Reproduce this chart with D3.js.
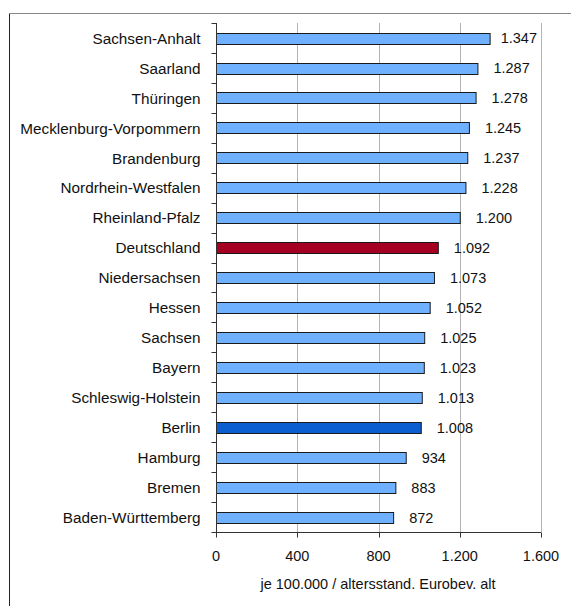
<!DOCTYPE html>
<html>
<head>
<meta charset="utf-8">
<script src="https://cdn.jsdelivr.net/npm/d3@7"></script>
<style>
  body { margin: 0; background: #fff; }
  svg { display: block; }
  text { font-family: "Liberation Sans", Arial, sans-serif; fill: #111; }
</style>
</head>
<body>
<script>
var outerWidth = 571;
var outerHeight = 606;
var margin = {left: 216, top: 23, right: 30, bottom: 74};

// Laender, sorted as in the reference
var states = ["Sachsen-Anhalt", "Saarland", "Thüringen", "Mecklenburg-Vorpommern",
  "Brandenburg", "Nordrhein-Westfalen", "Rheinland-Pfalz", "Deutschland",
  "Niedersachsen", "Hessen", "Sachsen", "Bayern", "Schleswig-Holstein",
  "Berlin", "Hamburg", "Bremen", "Baden-Württemberg"];
var rates = [1347, 1287, 1278, 1245, 1237, 1228, 1200, 1092,
  1073, 1052, 1025, 1023, 1013, 1008, 934, 883, 872];
var xTicks = [0, 400, 800, 1200, 1600];
var axisTitle = "je 100.000 / altersstand. Eurobev. alt";

var fmt = d3.formatLocale({decimal: ",", thousands: ".", grouping: [3], currency: ["", "€"]}).format(",.0f");

function barColor(name) {
  if (name === "Deutschland") return "#a50021";
  if (name === "Berlin") return "#0b5ed0";
  return "#6fb0ff";
}

var svg = d3.select("body").append("svg")
    .attr("width", outerWidth)
    .attr("height", outerHeight);

// chart frame (only left and top edges are inside the picture)
svg.append("line")
    .attr("x1", 9.5).attr("x2", 9.5).attr("y1", 13).attr("y2", outerHeight)
    .attr("stroke", "#222");
svg.append("line")
    .attr("x1", 9).attr("x2", outerWidth).attr("y1", 13.5).attr("y2", 13.5)
    .attr("stroke", "#888");

var g = svg.append("g")
    .attr("transform", "translate(" + margin.left + "," + margin.top + ")");

var x = d3.scaleLinear().domain([0, 1600]).range([0, 325]);
var y = d3.scaleBand().domain(states).range([0, 509]).paddingInner(0.64).paddingOuter(0.32);
var step = y.step();

// gridlines
g.selectAll(".grid")
  .data(xTicks.slice(1))
  .enter().append("line")
    .attr("x1", function(d) { return Math.round(x(d)) + 0.5; })
    .attr("x2", function(d) { return Math.round(x(d)) + 0.5; })
    .attr("y1", 0).attr("y2", 509)
    .attr("stroke", "#b4b4b4");

// bars
g.selectAll(".bar")
  .data(states)
  .enter().append("rect")
    .attr("x", 0.5)
    .attr("y", function(d) { return Math.round(y(d)) + 0.5; })
    .attr("width", function(d, i) { return x(rates[i]); })
    .attr("height", Math.round(y.bandwidth()))
    .attr("fill", function(d) { return barColor(d); })
    .attr("stroke", "#1a1a1a")
    .attr("stroke-width", 1);

// value labels
g.selectAll(".val")
  .data(states)
  .enter().append("text")
    .attr("y", function(d) { return y(d) + y.bandwidth() / 2; })
    .attr("dy", "0.38em")
    .style("font-size", "14.5px")
    .text(function(d, i) { return fmt(rates[i]); })
    .attr("x", function(d, i) {
      var w = this.getComputedTextLength();
      return Math.min(x(rates[i]) + 16, 321 - w);
    });

// category axis
var yAxis = g.append("g").attr("transform", "translate(0.5,0)");
yAxis.append("line").attr("y1", 0).attr("y2", 509).attr("stroke", "#333");
yAxis.selectAll(".tk")
  .data(d3.range(states.length + 1))
  .enter().append("line")
    .attr("x1", -5).attr("x2", 0)
    .attr("y1", function(i) { return Math.round(i * step) + 0.5; })
    .attr("y2", function(i) { return Math.round(i * step) + 0.5; })
    .attr("stroke", "#333");
yAxis.selectAll(".lab")
  .data(states)
  .enter().append("text")
    .attr("x", -16)
    .attr("y", function(d) { return y(d) + y.bandwidth() / 2; })
    .attr("dy", "0.38em")
    .attr("text-anchor", "end")
    .style("font-size", "15.3px")
    .text(function(d) { return d; });

// value axis
var xAxis = g.append("g").attr("transform", "translate(0,509.5)");
xAxis.append("line").attr("x1", 0).attr("x2", 325).attr("stroke", "#333");
xAxis.selectAll(".tk")
  .data(xTicks)
  .enter().append("line")
    .attr("x1", function(d) { return Math.round(x(d)) + 0.5; })
    .attr("x2", function(d) { return Math.round(x(d)) + 0.5; })
    .attr("y1", 0).attr("y2", 5)
    .attr("stroke", "#333");
xAxis.selectAll(".lab")
  .data(xTicks)
  .enter().append("text")
    .attr("x", function(d) { return x(d); })
    .attr("y", 28)
    .attr("text-anchor", "middle")
    .style("font-size", "14.5px")
    .text(function(d) { return fmt(d); });

g.append("text")
    .attr("x", 162)
    .attr("y", 566)
    .attr("text-anchor", "middle")
    .style("font-size", "14.5px")
    .text(axisTitle);
</script>
</body>
</html>
